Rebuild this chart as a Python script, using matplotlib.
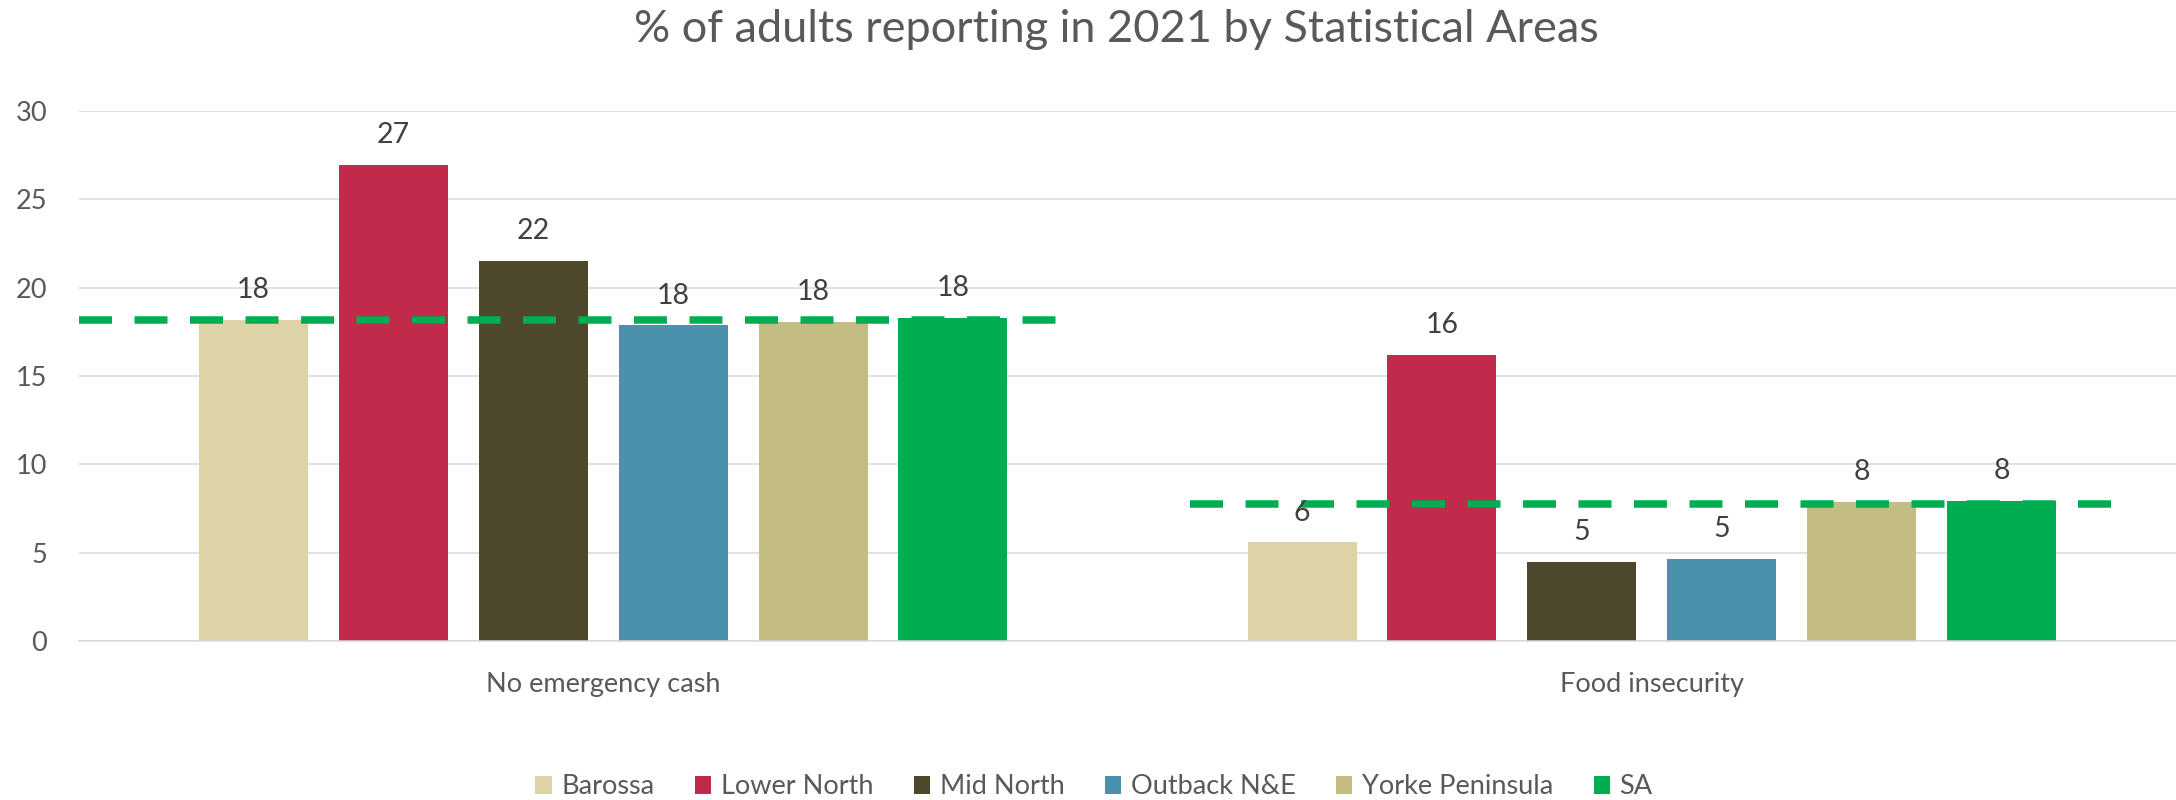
import numpy as np
import matplotlib
matplotlib.use("Agg")
import matplotlib.pyplot as plt
from matplotlib.patches import Patch

plt.rcParams['font.family'] = ['Lato', 'DejaVu Sans']

title = "% of adults reporting in 2021 by Statistical Areas"
categories = ["No emergency cash", "Food insecurity"]
regions = ["Barossa", "Lower North", "Mid North", "Outback N&E", "Yorke Peninsula", "SA"]
values = {
    "Barossa":         [18.16, 5.58],
    "Lower North":     [26.97, 16.19],
    "Mid North":       [21.5, 4.5],
    "Outback N&E":     [17.86, 4.66],
    "Yorke Peninsula": [18.07, 7.89],
    "SA":              [18.31, 7.93],
}
sa_reference = [18.15, 7.77]
yticks = [0, 5, 10, 15, 20, 25, 30]

colors = ["#DDD3A7", "#C12A4A", "#4D472B", "#4A91AC", "#C3BC83", "#00AD50"]
text_grey = "#595959"

fig = plt.figure(figsize=(21.76, 8), dpi=100)
ax = fig.add_axes([79/2176, 159/800, (2176-79)/2176, 530/800])

x = np.arange(len(categories))
pitch = 0.1334
width = 0.104
for i, (r, c) in enumerate(zip(regions, colors)):
    pos = x + (i - 2.5) * pitch
    ax.bar(pos, values[r], width=width, color=c, zorder=2, label=r)
    for xp, v in zip(pos, values[r]):
        ax.annotate(f"{int(np.floor(v + 0.5))}", (xp, v), xytext=(0, 21.5),
                    textcoords="offset points", ha="center", va="center",
                    fontsize=20.5, color="#404040", zorder=4)

# SA reference dashed lines
line_spans = [(-0.5, 0.436), (0.560, 1.442)]
for (x0, x1), yv in zip(line_spans, sa_reference):
    ax.plot([x0, x1], [yv, yv], color="#00AD50", lw=5.4, dashes=(4.4, 3.0),
            solid_capstyle="butt", dash_capstyle="butt", zorder=3)

ax.set_xlim(-0.5, 1.5)
ax.set_ylim(0, 30)
ax.set_yticks(yticks)
ax.set_xticks(x)
ax.set_xticklabels(categories)
ax.yaxis.grid(True, color="#D9D9D9", lw=1.1, zorder=0)
ax.set_axisbelow(True)
for s in ["top", "right", "left"]:
    ax.spines[s].set_visible(False)
ax.spines["bottom"].set_color("#D9D9D9")
ax.spines["bottom"].set_linewidth(1.1)
ax.tick_params(axis="both", length=0, labelsize=19.5, labelcolor=text_grey)
ax.tick_params(axis="y", pad=23)
ax.tick_params(axis="x", pad=22)

fig.text(1116/2176, 1 - 30/800, title, ha="center", va="center", fontsize=32.5, color=text_grey)

handles = [Patch(facecolor=c, edgecolor="none") for c in colors]
fig.legend(handles, regions, loc="center", bbox_to_anchor=(1094/2176, 13/800), ncol=6,
           frameon=False, fontsize=19.5, labelcolor=text_grey,
           handlelength=0.6, handleheight=0.65, handletextpad=0.35, columnspacing=1.5)

fig.savefig("out.png", dpi=100)
